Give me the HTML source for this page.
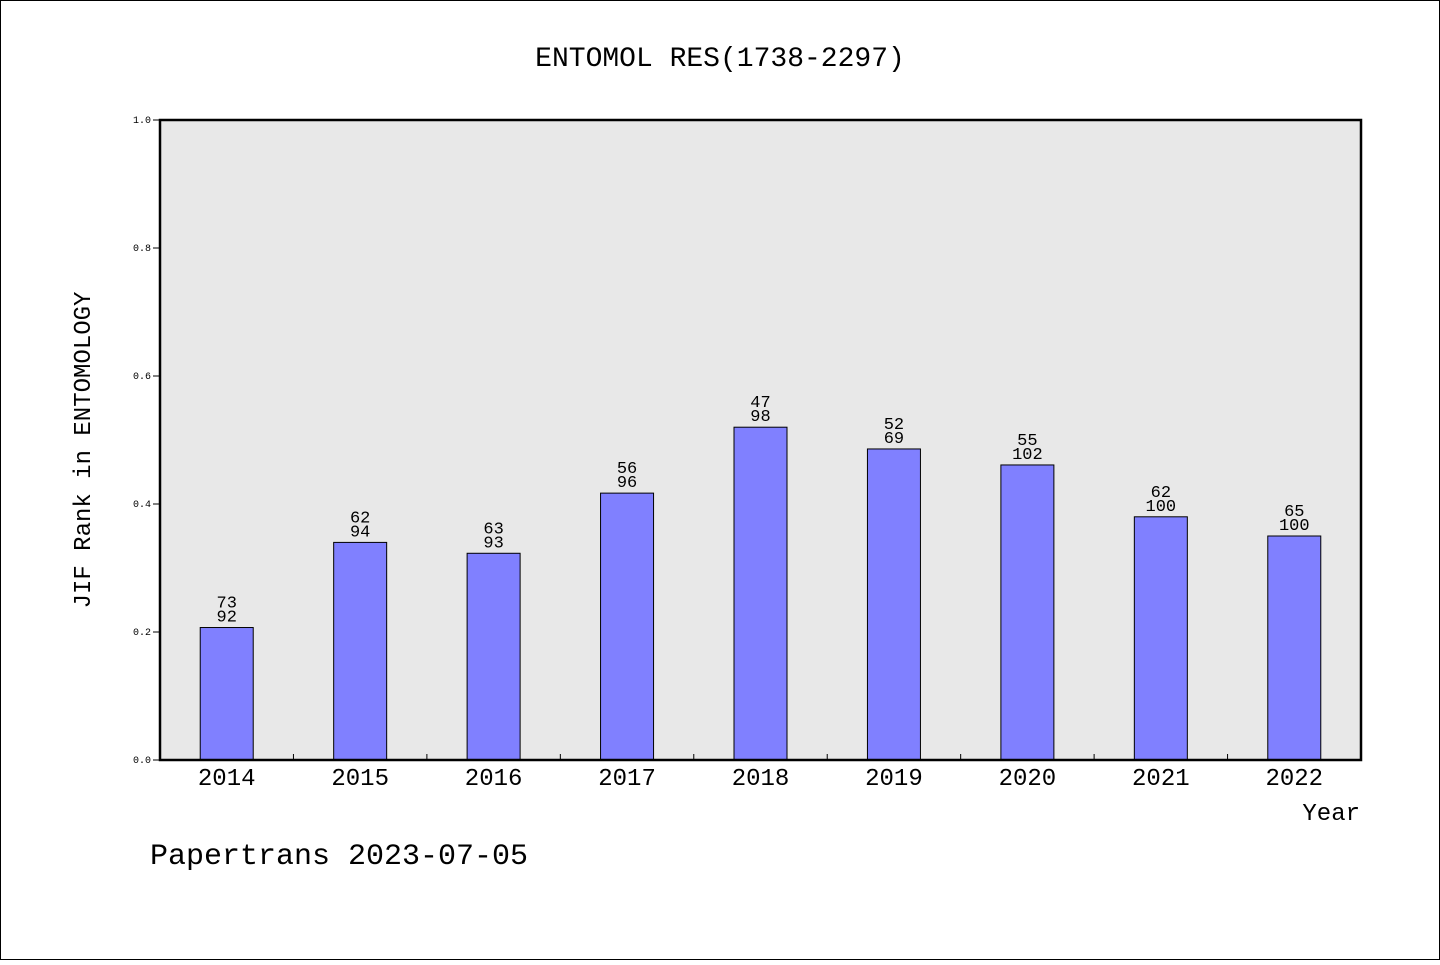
<!DOCTYPE html>
<html><head><meta charset="utf-8"><style>
html,body{margin:0;padding:0;background:#fff}
svg, svg text{font-family:"WenQuanYi Zen Hei","Liberation Mono",monospace}
</style></head><body>
<svg id="chart" width="1440" height="960" viewBox="0 0 1440 960">
<rect x="0.5" y="0.5" width="1439" height="959" fill="#fff" stroke="#000"/>
<text x="720" y="66" font-size="28" text-anchor="middle">ENTOMOL RES(1738-2297)</text>
<rect x="160" y="120" width="1201" height="640" fill="#e8e8e8"/>
<g id="marks"></g>
<rect x="160" y="120" width="1201" height="640" fill="none" stroke="#000" stroke-width="2.5"/>
<text transform="translate(90,450) rotate(-90)" font-size="24" text-anchor="middle">JIF Rank in ENTOMOLOGY</text>
<text x="1360" y="820" font-size="24" text-anchor="end">Year</text>
<text x="150" y="864" font-size="30">Papertrans 2023-07-05</text>
</svg>
<script>
const years = ["2014","2015","2016","2017","2018","2019","2020","2021","2022"];
const values = [0.207,0.340,0.323,0.417,0.520,0.486,0.461,0.380,0.350];
const ranks = [73,62,63,56,47,52,55,62,65];
const totals = [92,94,93,96,98,69,102,100,100];
const yTicks = [0,0.2,0.4,0.6,0.8,1.0];
const yTickLabels = ["0.0","0.2","0.4","0.6","0.8","1.0"];

const NS="http://www.w3.org/2000/svg";
const L=160,R=1361,T=120,B=760;
const band=(R-L)/years.length;
const xc=i=>L+band*(i+0.5);
const y=v=>B-(B-T)*v;
const g=document.getElementById('marks');
function mk(tag,attrs){const e=document.createElementNS(NS,tag);for(const k in attrs)e.setAttribute(k,attrs[k]);g.appendChild(e);return e;}
yTicks.forEach((v,i)=>{
  const t=mk('line',{x1:L-7,x2:L,y1:y(v),y2:y(v),stroke:'#000'});
  
  
  const lb=mk('text',{x:L-9,y:y(v)+3,'font-size':10,'text-anchor':'end'});
  lb.textContent=yTickLabels[i];
  
  
});
years.forEach((yr,i)=>{
  const v=values[i];
  const bw=53;
  const b=mk('rect',{x:xc(i)-bw/2,y:y(v),width:bw,height:B-y(v),fill:'#8080ff',stroke:'#000','stroke-width':1});
  
  
  const t1=mk('text',{x:xc(i),y:y(v)-20,'font-size':17,'text-anchor':'middle'});
  t1.textContent=ranks[i];
  
  
  const t2=mk('text',{x:xc(i),y:y(v)-6,'font-size':17,'text-anchor':'middle'});
  t2.textContent=totals[i];
  
  
  const xl=mk('text',{x:xc(i),y:785,'font-size':24,'text-anchor':'middle'});
  xl.textContent=yr;
  
  
  if(i>0){
    const tk=mk('line',{x1:L+band*i,x2:L+band*i,y1:B,y2:B-6,stroke:'#000'});
    
    
  }
});
</script>
</body></html>
